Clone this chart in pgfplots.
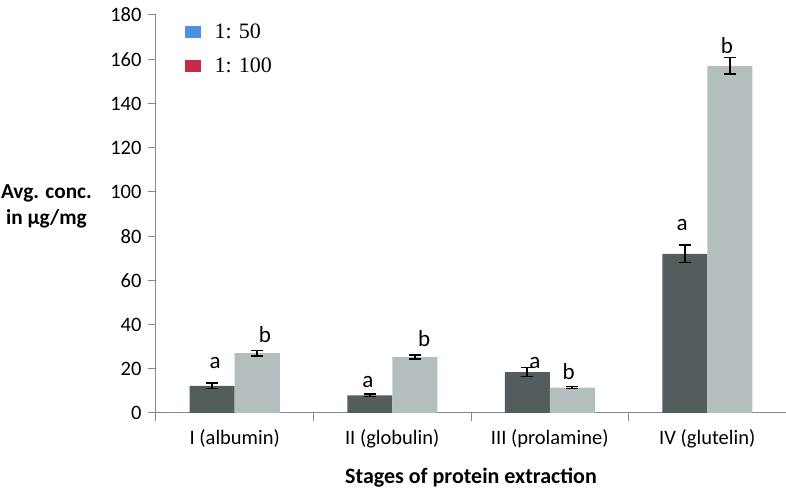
\documentclass[border=0pt]{standalone}
\usepackage{fontspec}
\setmainfont{Carlito}
\newfontfamily\timesfont{Liberation Serif}
\usepackage{pgfplots}
\pgfplotsset{compat=1.18}

\definecolor{darkbar}{RGB}{83,93,93}
\definecolor{lightbar}{RGB}{180,190,190}
\definecolor{axisgray}{RGB}{135,135,135}
\definecolor{legblue}{RGB}{79,143,230}
\definecolor{legred}{RGB}{200,40,74}

\begin{document}
\begin{tikzpicture}
\begin{axis}[
  scale only axis,
  width=630pt, height=398pt,
  xmin=-0.5, xmax=3.5,
  ymin=0, ymax=180,
  ybar=0pt,
  bar width=45pt,
  axis lines*=left,
  axis line style={axisgray, line width=1pt},
  tick align=outside,
  tick style={axisgray, line width=1pt},
  major tick length=8pt,
  ytick={0,20,...,180},
  xtick={-0.5,0.5,1.5,2.5,3.5},
  xticklabels={},
  extra x ticks={0,1,2,3},
  extra x tick labels={I (albumin), II (globulin), III (prolamine), IV (glutelin)},
  extra x tick style={major tick length=0pt},
  ticklabel style={font=\fontsize{20.5}{24}\selectfont},
  /pgf/number format/assume math mode=true,
  yticklabel style={xshift=-3pt},
  xticklabel style={yshift=-13pt},
  xlabel={\textbf{Stages of protein extraction}},
  xlabel style={font=\fontsize{22}{26}\selectfont, yshift=-5pt},
  every axis y label/.style={at={(rel axis cs:0,0.52)}, anchor=east, inner sep=0pt, xshift=-64pt, align=center, font=\fontsize{21.3}{26}\selectfont\bfseries},
  ylabel={Avg. conc.\\in µg/mg},
  legend style={at={(rel axis cs:0.045,0.983)}, anchor=north west, draw=none, fill=none,
    font=\fontsize{22}{26}\selectfont\timesfont, row sep=14pt, inner sep=0pt,
    /tikz/every odd column/.append style={column sep=12pt}},
  legend cell align=left,
  legend image code/.code={\fill[#1, draw=none] (0pt,-6pt) rectangle (16pt,6pt);},
  error bars/y dir=both,
  error bars/y explicit,
  error bars/error bar style={black, line width=1.6pt},
  error bars/error mark options={rotate=90, mark size=6pt, line width=1.6pt, black},
]
\addlegendimage{fill=legblue}
\addlegendentry{1: 50}
\addlegendimage{fill=legred}
\addlegendentry{1: 100}

\addplot[fill=darkbar, draw=none, forget plot, bar shift=-22.5pt] coordinates {
  (0,12.3) +- (0,1.2)
  (1,8.0) +- (0,0.5)
  (2,18.5) +- (0,2.0)
  (3,72.0) +- (0,4.0)
};
\addplot[fill=lightbar, draw=none, forget plot, bar shift=22.5pt] coordinates {
  (0,27.1) +- (0,1.2)
  (1,25.3) +- (0,0.8)
  (2,11.5) +- (0,0.5)
  (3,157.0) +- (0,3.7)
};
\addplot[only marks, mark=none, forget plot, bar shift=0pt, nodes near coords, point meta=explicit symbolic,
  nodes near coords style={anchor=center, font=\fontsize{23}{27}\selectfont}]
  coordinates {
  (-0.125,22.6) [a]
  (0.192,35.3) [b]
  (0.846,14.2) [a]
  (1.202,33.5) [b]
  (1.906,22.6) [a]
  (2.12,18.7) [b]
  (2.84,85.0) [a]
  (3.125,166.0) [b]
};
\end{axis}
\pgfresetboundingbox
\path ([xshift=-156pt,yshift=-76pt]current axis.south west) rectangle ([yshift=15pt]current axis.north east);
\end{tikzpicture}
\end{document}
